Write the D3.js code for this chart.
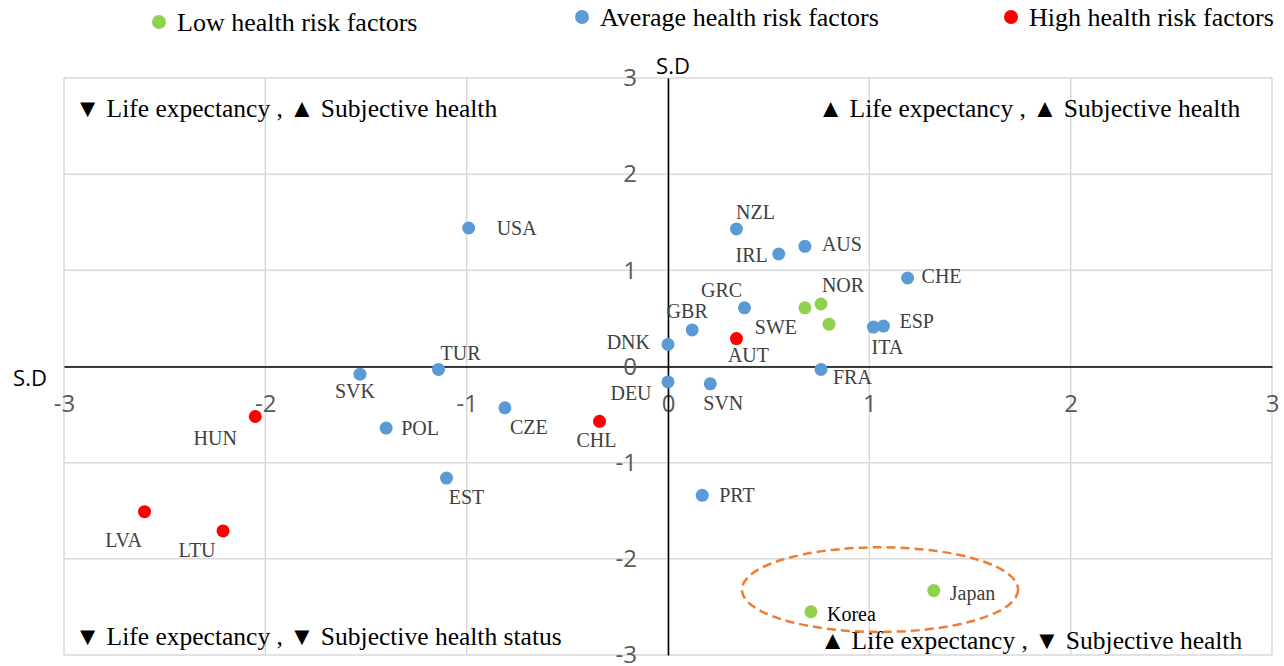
<!DOCTYPE html>
<html>
<head>
<meta charset="utf-8">
<script src="https://cdn.jsdelivr.net/npm/d3@7"></script>
<style>
  html, body { margin: 0; padding: 0; background: #fff; }
  svg { display: block; }
</style>
</head>
<body>
<svg id="chart" width="1284" height="666"></svg>
<script>
// ---- data ----
const countries = ["USA","NZL","AUS","IRL","CHE","GRC","NOR","SWE","NOR2","ITA","ESP","GBR","DNK","AUT","FRA","DEU","SVN","PRT","Japan","Korea","TUR","SVK","HUN","POL","CZE","CHL","EST","LVA","LTU"];
const lifeExpSD   = [-0.99, 0.34, 0.68, 0.55, 1.19, 0.38, 0.76, 0.68, 0.80, 1.02, 1.07, 0.12, 0.00, 0.34, 0.76, 0.00, 0.21, 0.17, 1.32, 0.71, -1.14, -1.53, -2.05, -1.40, -0.81, -0.34, -1.10, -2.60, -2.21];
const subjHealthSD= [1.44, 1.43, 1.25, 1.17, 0.92, 0.61, 0.65, 0.61, 0.44, 0.41, 0.42, 0.38, 0.23, 0.29, -0.03, -0.16, -0.18, -1.34, -2.33, -2.55, -0.03, -0.08, -0.52, -0.64, -0.43, -0.57, -1.16, -1.51, -1.71];
const riskGroup   = ["avg","avg","avg","avg","avg","avg","low","low","low","avg","avg","avg","avg","high","avg","avg","avg","avg","low","low","avg","avg","high","avg","avg","high","avg","high","high"];
const labels      = ["USA","NZL","AUS","IRL","CHE","GRC","NOR","SWE","","ITA","ESP","GBR","DNK","AUT","FRA","DEU","SVN","PRT","Japan","Korea","TUR","SVK","HUN","POL","CZE","CHL","EST","LVA","LTU"];
const xTicks = [-3,-2,-1,0,1,2,3];
const yTicks = [-3,-2,-1,0,1,2,3];
const legendKeys  = ["low","avg","high"];
const legendNames = ["Low health risk factors","Average health risk factors","High health risk factors"];
const quadrantTexts = [
  "\u25BC Life expectancy , \u25B2 Subjective health",
  "\u25B2 Life expectancy , \u25B2 Subjective health",
  "\u25BC Life expectancy , \u25BC Subjective health status",
  "\u25B2 Life expectancy , \u25BC Subjective health"
];
const highlightCenter = [1.053, -2.32];
const highlightRadii  = [0.686, 0.44];

// ---- style / layout ----
const colors = { low: "#92D050", avg: "#5B9BD5", high: "#FF0000" };
// label placement: [anchor, dx, dy]
const labelPlace = {
  USA:["start",28,0], NZL:["middle",19,-17], AUS:["start",17,-2], IRL:["end",-11,1], CHE:["start",14,-2],
  GRC:["middle",-23,-18], NOR:["middle",22,-19], SWE:["middle",-29,19], ITA:["middle",14,20], ESP:["start",16,-5],
  GBR:["middle",-5,-19], DNK:["end",-18,-2], AUT:["middle",12,16], FRA:["start",12,8], DEU:["middle",-37,11],
  SVN:["middle",13,19], PRT:["start",17,0], Japan:["start",16,2], Korea:["start",16,2], TUR:["middle",22,-16],
  SVK:["middle",-5,17], HUN:["middle",-40,21], POL:["start",15,0], CZE:["middle",24,19], CHL:["middle",-3,19],
  EST:["middle",20,19], LVA:["middle",-21,28], LTU:["middle",-26,19]
};

const svg = d3.select("#chart");
const x = d3.scaleLinear().domain([-3,3]).range([64,1272]);
const y = d3.scaleLinear().domain([-3,3]).range([655,78]);

const serif = "'Liberation Serif', 'Times New Roman', serif";
const sans = "'Open Sans', 'Noto Sans', sans-serif";

// gridlines
const grid = svg.append("g");
grid.selectAll("line.v").data(xTicks).join("line")
  .attr("x1", d => x(d)).attr("x2", d => x(d)).attr("y1", y(3)).attr("y2", y(-3))
  .attr("stroke", "#D9D9D9").attr("stroke-width", 1.5);
grid.selectAll("line.h").data(yTicks).join("line")
  .attr("y1", d => y(d)).attr("y2", d => y(d)).attr("x1", x(-3)).attr("x2", x(3))
  .attr("stroke", "#D9D9D9").attr("stroke-width", 1.5);

// axes
const xAxis = d3.axisBottom(x).tickValues(xTicks).tickSize(0).tickPadding(32).tickFormat(d3.format("d"));
const yAxis = d3.axisLeft(y).tickValues(yTicks).tickSize(0).tickPadding(31).tickFormat(d3.format("d"));
const gx = svg.append("g").attr("transform", `translate(0,${y(0)})`).call(xAxis);
const gy = svg.append("g").attr("transform", `translate(${x(0)},0)`).call(yAxis);
[gx, gy].forEach(g => {
  g.select(".domain").attr("stroke", "#000").attr("stroke-width", 1.6);
  g.selectAll("text").attr("fill", "#595959").style("font-family", sans).style("font-size", "24px")
    .text(d => d < 0 ? "-" + Math.abs(d) : d);
});
gx.selectAll(".tick text").attr("dy", "0.55em");

// axis titles
svg.append("text").attr("x", x(0) + 5).attr("y", 74).attr("text-anchor", "middle")
  .style("font-family", sans).style("font-size", "22px").attr("fill", "#000").text("S.D");
svg.append("text").attr("x", 30).attr("y", 386).attr("text-anchor", "middle")
  .style("font-family", sans).style("font-size", "22px").attr("fill", "#000").text("S.D");

// quadrant annotations
const qPos = [[75,117,"start"],[818,117,"start"],[75,645,"start"],[820,649,"start"]];
svg.selectAll("text.quad").data(quadrantTexts).join("text")
  .attr("class","quad")
  .attr("x", (d,i) => qPos[i][0]).attr("y", (d,i) => qPos[i][1])
  .style("font-family", serif).style("font-size", "25.5px").attr("fill", "#000")
  .text(d => d);

// highlight ellipse
svg.append("ellipse")
  .attr("cx", x(highlightCenter[0])).attr("cy", y(highlightCenter[1]))
  .attr("rx", x(highlightRadii[0]) - x(0)).attr("ry", y(0) - y(highlightRadii[1]))
  .attr("fill", "none").attr("stroke", "#ED7D31").attr("stroke-width", 2.5)
  .attr("stroke-dasharray", "9,5");

// points
const pts = countries.map((c,i) => ({c, x: lifeExpSD[i], y: subjHealthSD[i], g: riskGroup[i], l: labels[i]}));
svg.append("g").selectAll("circle").data(pts).join("circle")
  .attr("cx", d => x(d.x)).attr("cy", d => y(d.y)).attr("r", 6.5)
  .attr("fill", d => colors[d.g]);

svg.append("g").selectAll("text").data(pts.filter(d => d.l)).join("text")
  .attr("x", d => x(d.x) + labelPlace[d.l][1])
  .attr("y", d => y(d.y) + labelPlace[d.l][2])
  .attr("dy", "0.35em")
  .attr("text-anchor", d => labelPlace[d.l][0])
  .style("font-family", serif).style("font-size", "20px")
  .attr("fill", d => d.l === "Korea" ? "#000" : "#404040")
  .text(d => d.l);

// legend
const legX = [159, 582, 1011];
const legY = [22, 17, 17];
const leg = svg.append("g").selectAll("g").data(legendKeys).join("g")
  .attr("transform", (d,i) => `translate(${legX[i]},${legY[i]})`);
leg.append("circle").attr("r", 7).attr("fill", d => colors[d]);
leg.append("text").attr("x", 18).attr("dy", "0.35em")
  .style("font-family", serif).style("font-size", "26px").attr("fill", "#000")
  .text((d,i) => legendNames[i]);
</script>
</body>
</html>
